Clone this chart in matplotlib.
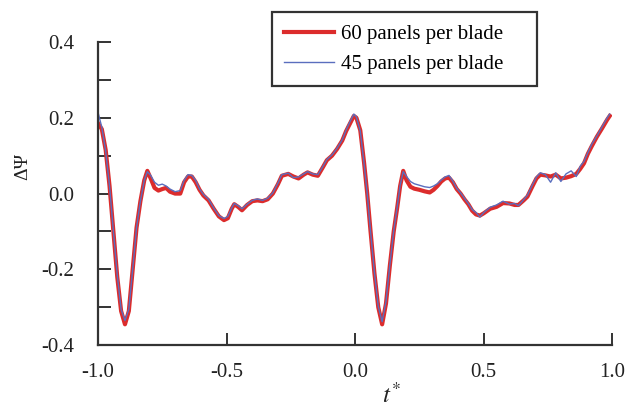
import matplotlib
matplotlib.use("Agg")
import matplotlib.pyplot as plt
from matplotlib.ticker import MultipleLocator

plt.rcParams['font.family'] = ['Liberation Serif', 'DejaVu Serif']
plt.rcParams['mathtext.fontset'] = 'stix'

# non-dimensional time t*
t_star = [-1.0, -0.985, -0.97, -0.955, -0.94, -0.925, -0.91, -0.895, -0.88, -0.865,
          -0.85, -0.835, -0.82, -0.808, -0.795, -0.78, -0.765, -0.75, -0.735, -0.72,
          -0.70, -0.68, -0.665, -0.65, -0.635, -0.62, -0.605, -0.59, -0.57, -0.55,
          -0.53, -0.51, -0.495, -0.48, -0.47, -0.455, -0.44, -0.42, -0.40, -0.38,
          -0.36, -0.34, -0.32, -0.30, -0.285, -0.26, -0.24, -0.22, -0.20, -0.185,
          -0.165, -0.145, -0.125, -0.11, -0.09, -0.07, -0.05, -0.035, -0.02, -0.005,
          0.005, 0.02, 0.035, 0.047, 0.06, 0.075, 0.09, 0.105, 0.12, 0.135,
          0.15, 0.163, 0.175, 0.187, 0.2, 0.215, 0.23, 0.25, 0.27, 0.29,
          0.305, 0.32, 0.335, 0.35, 0.365, 0.38, 0.395, 0.41, 0.425, 0.44,
          0.455, 0.47, 0.485, 0.50, 0.525, 0.55, 0.575, 0.60, 0.62, 0.635,
          0.655, 0.67, 0.69, 0.705, 0.72, 0.74, 0.76, 0.78, 0.80, 0.82,
          0.84, 0.86, 0.875, 0.89, 0.905, 0.92, 0.94, 0.96, 0.98, 0.99]

# delta Psi, 60 panels per blade
psi_60 = [0.186, 0.17, 0.115, 0.02, -0.1, -0.22, -0.31, -0.345, -0.31, -0.2,
          -0.09, -0.02, 0.035, 0.06, 0.04, 0.015, 0.008, 0.012, 0.015, 0.005,
          0.0, 0.0, 0.03, 0.045, 0.045, 0.03, 0.01, -0.005, -0.018, -0.04,
          -0.06, -0.07, -0.065, -0.04, -0.028, -0.035, -0.044, -0.03, -0.02, -0.018,
          -0.02, -0.015, 0.0, 0.025, 0.047, 0.052, 0.045, 0.04, 0.05, 0.056,
          0.05, 0.047, 0.07, 0.088, 0.1, 0.118, 0.14, 0.165, 0.185, 0.205,
          0.2, 0.167, 0.08, 0.0, -0.1, -0.21, -0.3, -0.345, -0.29, -0.19,
          -0.1, -0.04, 0.02, 0.06, 0.035, 0.018, 0.013, 0.01, 0.006, 0.003,
          0.01, 0.02, 0.032, 0.04, 0.042, 0.03, 0.012, 0.0, -0.015, -0.028,
          -0.045, -0.055, -0.058, -0.052, -0.04, -0.035, -0.025, -0.026, -0.03, -0.03,
          -0.018, -0.008, 0.02, 0.04, 0.05, 0.048, 0.045, 0.05, 0.04, 0.042,
          0.046, 0.052, 0.065, 0.08, 0.105, 0.125, 0.15, 0.172, 0.195, 0.205]

# delta Psi, 45 panels per blade
psi_45 = [0.215, 0.175, 0.112, 0.02, -0.1, -0.215, -0.305, -0.335, -0.305, -0.2,
          -0.09, -0.02, 0.035, 0.058, 0.048, 0.03, 0.022, 0.025, 0.02, 0.012,
          0.005, 0.008, 0.035, 0.05, 0.048, 0.035, 0.012, -0.002, -0.015, -0.038,
          -0.058, -0.066, -0.06, -0.038, -0.026, -0.032, -0.04, -0.028, -0.018, -0.014,
          -0.018, -0.012, 0.002, 0.028, 0.05, 0.054, 0.042, 0.044, 0.052, 0.058,
          0.052, 0.05, 0.072, 0.09, 0.102, 0.12, 0.142, 0.168, 0.19, 0.21,
          0.202, 0.165, 0.078, 0.0, -0.1, -0.208, -0.298, -0.338, -0.285, -0.188,
          -0.098, -0.038, 0.022, 0.058, 0.045, 0.032, 0.026, 0.022, 0.018, 0.016,
          0.02, 0.026, 0.036, 0.044, 0.048, 0.033, 0.014, 0.002, -0.012, -0.026,
          -0.042, -0.05, -0.062, -0.05, -0.036, -0.03, -0.02, -0.028, -0.026, -0.032,
          -0.016, -0.004, 0.024, 0.044, 0.055, 0.05, 0.03, 0.055, 0.032, 0.052,
          0.06, 0.045, 0.072, 0.085, 0.108, 0.13, 0.152, 0.176, 0.2, 0.21]

fig = plt.figure(figsize=(6.28, 4.08), dpi=100)
ax = fig.add_axes([0.156, 0.154, 0.819, 0.743])

ax.plot(t_star, psi_60, color='#dc2c2c', lw=3.0, label='60 panels per blade    ')
ax.plot(t_star, psi_45, color='#5a6ebe', lw=1.0, label='45 panels per blade    ')

ax.set_xlim(-1.0, 1.0)
ax.set_ylim(-0.4, 0.4)
ax.set_xticks([-1.0, -0.5, 0.0, 0.5, 1.0])
ax.set_xticklabels(['-1.0', '-0.5', '0.0', '0.5', '1.0'])
ax.set_yticks([-0.4, -0.2, 0.0, 0.2, 0.4])
ax.set_yticklabels(['-0.4', '-0.2', '0.0', '0.2', '0.4'])
ax.yaxis.set_minor_locator(MultipleLocator(0.1))

for side in ['top', 'right']:
    ax.spines[side].set_visible(False)
for side in ['left', 'bottom']:
    ax.spines[side].set_linewidth(1.6)
    ax.spines[side].set_color('#333333')

ax.tick_params(axis='both', which='both', direction='in', length=9, width=1.4,
               color='#333333', labelsize=15, labelcolor='#222222')
ax.tick_params(axis='y', pad=17)
ax.tick_params(axis='x', pad=13)

ax.set_ylabel('ΔΨ', fontsize=14, color='#222222')
ax.yaxis.set_label_coords(-0.13, 0.59)
ax.set_xlabel('$t^{*}$', fontsize=18, color='#222222')
ax.xaxis.set_label_coords(0.57, -0.125)

leg = ax.legend(loc='upper left', bbox_to_anchor=(0.433, 0.971),
                bbox_transform=fig.transFigure, borderaxespad=0,
                fancybox=False, fontsize=15, handlelength=2.4,
                handletextpad=0.3, labelspacing=0.5, borderpad=0.6)
leg.get_frame().set_edgecolor('black')
leg.get_frame().set_linewidth(1.6)

fig.savefig('out.png', dpi=100)
